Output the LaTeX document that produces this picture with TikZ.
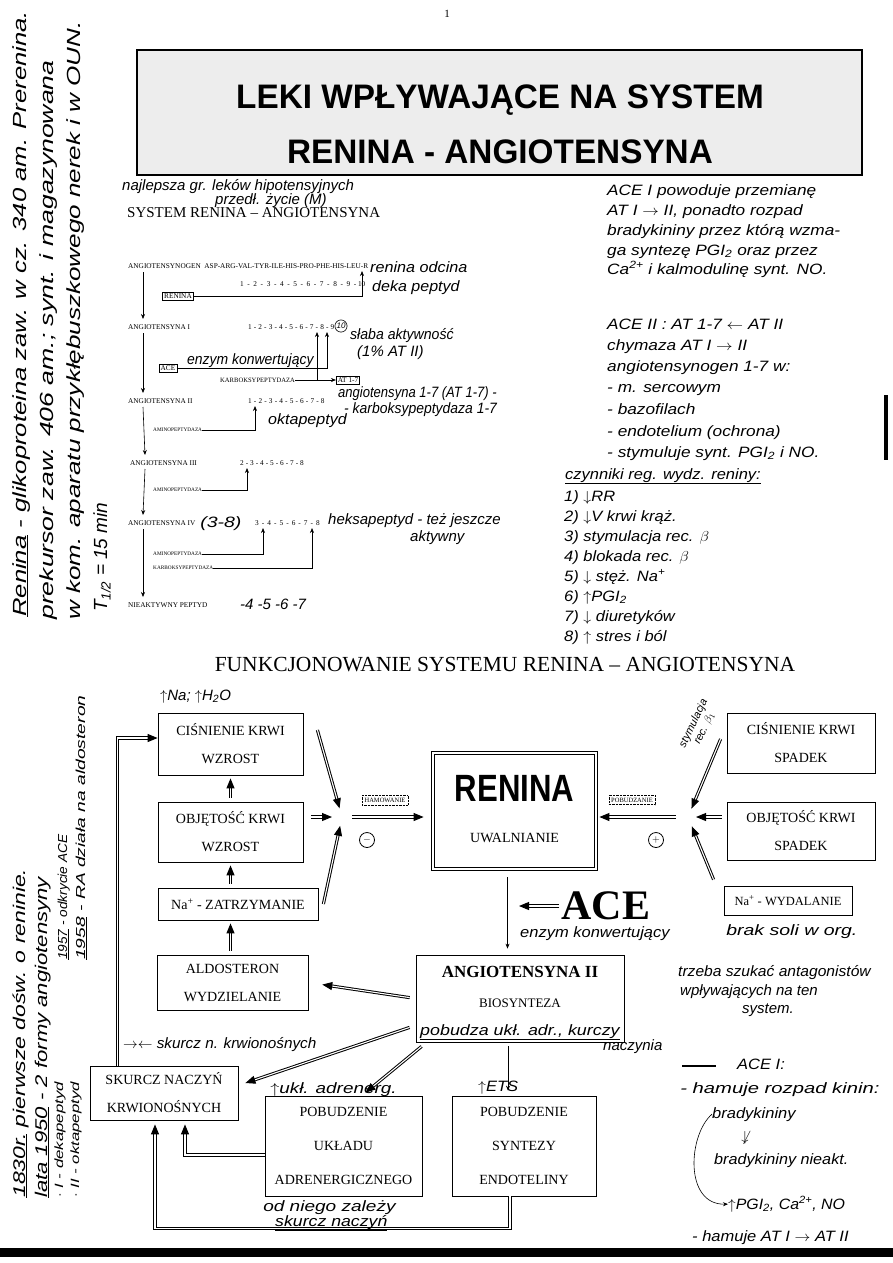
\documentclass[tikz,border=0pt]{standalone}
\usepackage{fontspec}
\setmainfont{Liberation Serif}
\newfontfamily\headfont{Liberation Sans}
\newfontfamily\handfont{Liberation Sans}
\usetikzlibrary{arrows.meta,positioning,calc}

\begin{document}
\begin{tikzpicture}[
  x=1pt,
  y=-1pt,
  box/.style={
    draw,
    line width=0.8pt,
    align=center,
    inner sep=0pt,
    font=\fontsize{14}{28}\selectfont
  },
  chain/.style={
    font=\fontsize{7.3}{8}\selectfont,
    inner sep=0pt
  },
  enzyme/.style={
    font=\fontsize{5.3}{6}\selectfont,
    inner sep=0pt,
    anchor=west
  },
  enzbox/.style={
    chain,
    draw,
    line width=0.6pt,
    inner sep=1.5pt
  },
  hand/.style={
    font=\handfont\itshape\fontsize{15}{18}\selectfont,
    anchor=base west,
    inner sep=0pt
  },
  note/.style={
    hand,
    xscale=1.15
  },
  margin/.style={
    hand,
    rotate=90,
    font=\handfont\itshape\fontsize{19}{22}\selectfont
  },
  tag/.style={
    draw,
    densely dotted,
    font=\fontsize{6.5}{7}\selectfont,
    inner sep=2.5pt
  },
  thinarrow/.style={
    line width=0.6pt,
    -{Stealth[length=5pt,width=4pt]}
  },
  dblline/.style={
    double,
    double distance=1.1pt,
    line width=1pt
  },
  dblarrow/.style={
    dblline,
    -{Triangle[length=10pt,width=8pt]}
  }
]

\useasboundingbox (0,0) rectangle (893,1263);

% title
\node[font=\fontsize{11}{12}\selectfont] (pageno) at (447,14) {1};
\node[draw, line width=1.2pt, fill=black!7, minimum width=725pt, minimum height=125pt] (titlebox) at (499.5,112.5) {};
\node[font=\headfont\bfseries\fontsize{34}{36}\selectfont, xscale=0.98] (title1) at (500,100) {LEKI WPŁYWAJĄCE NA SYSTEM};
\node[font=\headfont\bfseries\fontsize{34}{36}\selectfont, xscale=0.98] (title2) at (500,152) {RENINA - ANGIOTENSYNA};

\node[hand] (best1) at (122,190) {najlepsza gr. leków hipotensyjnych};
\node[hand] (best2) at (215,204) {przedł. życie (M)};
\node[font=\fontsize{15}{16}\selectfont, anchor=base west, inner sep=0pt] (systitle) at (127,217) {SYSTEM RENINA -- ANGIOTENSYNA};

% cascade
\newcommand{\residues}[4]{%
  \foreach \res [count=\c from 0] in {#4} {
    \node[chain, anchor=base] (res-#1-\c) at ({#2+\c*#3},#1) {\res};
    \ifnum\c>0
      \node[chain, anchor=base] (bond-#1-\c) at ({#2+(\c-0.5)*#3},#1) {-};
    \fi
  }
}

\node[chain, anchor=base west] (agen) at (128,268) {ANGIOTENSYNOGEN\ \ ASP-ARG-VAL-TYR-ILE-HIS-PRO-PHE-HIS-LEU-R};
\node[chain, anchor=base west] (at1) at (128,329) {ANGIOTENSYNA I};
\node[chain, anchor=base west] (at2) at (128,403) {ANGIOTENSYNA II};
\node[chain, anchor=base west] (at3) at (130,465) {ANGIOTENSYNA III};
\node[chain, anchor=base west] (at4) at (128,525) {ANGIOTENSYNA IV};
\node[chain, anchor=base west] (inact) at (128,607) {NIEAKTYWNY PEPTYD};

\residues{286}{242}{13.3}{1,2,3,4,5,6,7,8,9,10}
\residues{329}{250}{10.3}{1,2,3,4,5,6,7,8,9}
\residues{403}{250}{10.4}{1,2,3,4,5,6,7,8}
\residues{465}{242}{10}{2,3,4,5,6,7,8}
\residues{525}{257}{12.2}{3,4,5,6,7,8}
\node[circle, draw, line width=0.6pt, inner sep=0.6pt, font=\handfont\itshape\fontsize{8}{8}\selectfont] (ten) at (341,326) {10};

\foreach \from/\to in {agen/at1, at1/at2, at2/at3, at3/at4, at4/inact}
  \draw[thinarrow] ([xshift=15pt,yshift=-4pt]\from.base west) -- ([xshift=15pt,yshift=10pt]\to.base west);

\node[enzbox] (renbox) at (178,296) {RENINA};
\coordinate (cutgen) at (362,271);
\draw[thinarrow] (renbox.east) -| (cutgen);

\node[enzbox] (acebox) at (168,368) {ACE};
\coordinate (cut89) at (327,332);
\draw[thinarrow] (acebox.east) -| (cut89);

\node[enzyme, font=\fontsize{6.6}{7}\selectfont] (karb1) at (220,380) {KARBOKSYPEPTYDAZA};
\node[enzbox] (at17) at (348,380) {AT 1-7};
\coordinate (cut78) at (317,332);
\coordinate (karbjoin) at (317,380);
\draw[line width=0.6pt] (karb1.east) -- (karbjoin);
\draw[thinarrow] (karbjoin) -- (at17.west);
\draw[thinarrow] (karbjoin) -- (cut78);

\node[enzyme] (amino1) at (153,430) {AMINOPEPTYDAZA};
\coordinate (cut12) at (255,406);
\draw[thinarrow] (amino1.east) -| (cut12);
\node[enzyme] (amino2) at (153,490) {AMINOPEPTYDAZA};
\coordinate (cut23) at (247,468);
\draw[thinarrow] (amino2.east) -| (cut23);
\node[enzyme] (amino3) at (153,554) {AMINOPEPTYDAZA};
\coordinate (cut34) at (263,528);
\draw[thinarrow] (amino3.east) -| (cut34);
\node[enzyme] (karb2) at (153,568) {KARBOKSYPEPTYDAZA};
\coordinate (cut78b) at (312,528);
\draw[thinarrow] (karb2.east) -| (cut78b);

\node[hand, xscale=1.08] (odcina) at (370,272) {renina odcina};
\node[hand, xscale=1.07] (deka) at (372,291) {deka peptyd};
\node[hand, xscale=0.94] (slaba) at (350,339) {słaba aktywność};
\node[hand] (proc) at (357,356) {(1\% AT II)};
\node[hand, xscale=0.93] (konw1) at (187,364) {enzym konwertujący};
\node[hand, xscale=0.87] (at17a) at (338,397) {angiotensyna 1-7 (AT 1-7) -};
\node[hand, xscale=0.93] (at17b) at (344,413) {- karboksypeptydaza 1-7};
\node[hand, xscale=1.07] (okta) at (268,424) {oktapeptyd};
\node[hand, xscale=1.3] (range) at (200,527) {(3-8)};
\node[hand] (heksa) at (328,524) {heksapeptyd - też jeszcze};
\node[hand] (aktyw) at (410,541) {aktywny};
\node[hand] (rest) at (240,609) {-4 -5 -6 -7};

% notes on the right
\node[note] (n1) at (607,195) {ACE I powoduje przemianę};
\node[note] (n2) at (607,215) {AT I $\rightarrow$ II, ponadto rozpad};
\node[note] (n3) at (607,235) {bradykininy przez którą wzma-};
\node[note] (n4) at (607,255) {ga syntezę PGI\textsubscript{2} oraz przez};
\node[note] (n5) at (607,274) {Ca\textsuperscript{2+} i kalmodulinę synt. NO.};
\node[note] (m1) at (607,329) {ACE II : AT 1-7 $\leftarrow$ AT II};
\node[note] (m2) at (607,350) {chymaza AT I $\rightarrow$ II};
\node[note] (m3) at (607,371) {angiotensynogen 1-7 w:};
\node[note] (m4) at (607,392) {- m. sercowym};
\node[note] (m5) at (607,414) {- bazofilach};
\node[note] (m6) at (607,436) {- endotelium (ochrona)};
\node[note] (m7) at (607,457) {- stymuluje synt. PGI\textsubscript{2} i NO.};
\node[hand, xscale=1.1] (factors) at (565,479) {\underline{czynniki reg. wydz. reniny:}};
\foreach \txt [count=\i] in {$\downarrow$RR, $\downarrow$V krwi krąż., stymulacja rec. $\beta$, blokada rec. $\beta$, $\downarrow$ stęż. Na\textsuperscript{+}, $\uparrow$PGI\textsubscript{2}, $\downarrow$ diuretyków, $\uparrow$ stres i ból}
  \node[hand, xscale=1.1] (f\i) at (564,{481+\i*20}) {\i) \txt};

% functioning of the system
\node[font=\fontsize{21.5}{23}\selectfont] (functitle) at (505,665) {FUNKCJONOWANIE SYSTEMU RENINA -- ANGIOTENSYNA};

\node[box, minimum width=145pt, minimum height=62pt] (cisW) at (230.5,744) {CIŚNIENIE KRWI\\WZROST};
\node[box, minimum width=145pt, minimum height=60pt] (objW) at (230.5,832) {OBJĘTOŚĆ KRWI\\WZROST};
\node[box, minimum width=160pt, minimum height=32pt] (naZ) at (238,904) {Na\textsuperscript{+} - ZATRZYMANIE};
\node[box, minimum width=151pt, minimum height=55pt] (aldo) at (232.5,982.5) {ALDOSTERON\\WYDZIELANIE};
\node[box, minimum width=148pt, minimum height=54pt] (skurcz) at (164,1093) {SKURCZ NACZYŃ\\KRWIONOŚNYCH};
\node[box, minimum width=157pt, minimum height=100pt, font=\fontsize{14}{34}\selectfont] (adren) at (343.5,1146) {POBUDZENIE\\UKŁADU\\ADRENERGICZNEGO};
\node[box, minimum width=144pt, minimum height=100pt, font=\fontsize{14}{34}\selectfont] (endo) at (524,1146) {POBUDZENIE\\SYNTEZY\\ENDOTELINY};
\node[box, minimum width=208pt, minimum height=87pt] (ang2) at (520,998.5) {};
\node[font=\bfseries\fontsize{17}{20}\selectfont] (ang2name) at (520,972) {ANGIOTENSYNA II};
\node[font=\fontsize{13}{14}\selectfont] (biosynt) at (520,1003) {BIOSYNTEZA};
\node[draw, double, double distance=2.2pt, line width=0.8pt, minimum width=163pt, minimum height=116pt] (renina) at (514.5,811) {};
\node[font=\headfont\bfseries\fontsize{38}{40}\selectfont, xscale=0.82] (reninaname) at (514.5,788) {RENINA};
\node[font=\fontsize{14}{15}\selectfont] (uwal) at (514.5,838) {UWALNIANIE};
\node[box, minimum width=148pt, minimum height=60pt] (cisS) at (801,743) {CIŚNIENIE KRWI\\SPADEK};
\node[box, minimum width=148pt, minimum height=58pt] (objS) at (801,831) {OBJĘTOŚĆ KRWI\\SPADEK};
\node[box, minimum width=128pt, minimum height=29pt, font=\fontsize{12.5}{14}\selectfont] (naW) at (788,900.5) {Na\textsuperscript{+} - WYDALANIE};

\node[tag] (hamow) at (385,800) {HAMOWANIE};
\node[tag] (pobudz) at (632,800) {POBUDZANIE};
\node[circle, draw, line width=0.8pt, inner sep=0pt, minimum size=15pt] (minus) at (367,840) {$-$};
\node[circle, draw, line width=0.8pt, inner sep=0pt, minimum size=15pt] (plus) at (656,840) {$+$};

% left side converges on renina
\coordinate (lmeet) at (342,817);
\draw[dblarrow, shorten >=9pt] ([xshift=14pt,yshift=14pt]cisW.east) -- (lmeet);
\draw[dblarrow, shorten <=8pt, shorten >=10pt] ([yshift=15pt]objW.east) -- (lmeet);
\draw[dblarrow, shorten >=9pt] ([xshift=5pt]naZ.east) -- (lmeet);
\draw[dblarrow, shorten <=10pt, shorten >=9pt] (lmeet) -- (lmeet -| renina.west);

% right side converges on renina
\coordinate (rmeet) at (688,817);
\draw[dblarrow, shorten >=9pt] ([xshift=-6pt,yshift=4pt]cisS.west) -- (rmeet);
\draw[dblarrow, shorten <=5pt, shorten >=8pt] ([yshift=14pt]objS.west) -- (rmeet);
\draw[dblarrow, shorten >=10pt] ([xshift=-10pt,yshift=6pt]naW.north west) -- (rmeet);
\draw[dblarrow, shorten <=12pt, shorten >=3pt] (rmeet) -- (rmeet -| renina.east);

% left column
\draw[dblarrow, shorten <=4pt, shorten >=3pt] (objW.north) -- (cisW.south);
\draw[dblarrow, shorten <=4pt, shorten >=3pt] (naZ.north -| objW.south) -- (objW.south);
\draw[dblarrow, shorten <=4pt, shorten >=3pt] (aldo.north -| objW.south) -- (naZ.south -| objW.south);

% renina to angiotensyna II
\draw[thinarrow, shorten <=8pt, shorten >=6pt] ([xshift=-7pt]renina.south) -- ([xshift=-7pt]renina.south |- ang2.north);
\node[font=\bfseries\fontsize{42}{44}\selectfont, inner sep=2pt] (ace) at (606,906) {ACE};
\coordinate (acetip) at (519,906);
\draw[dblarrow] (ace.west) -- (acetip);

% effects of angiotensyna II
\draw[dblarrow, shorten <=6pt, shorten >=14pt] (ang2.west) -- (aldo.east);
\draw[dblarrow] ([xshift=-6pt,yshift=15pt]ang2.south west) -- ([xshift=7pt,yshift=10pt]skurcz.east);
\draw[dblarrow] ([xshift=6pt,yshift=-4pt]ang2.south west) -- ([xshift=22pt,yshift=3pt]adren.north);
\draw[thinarrow, shorten <=4pt, shorten >=5pt] ([xshift=-12pt]ang2.south) -- ([xshift=-12pt]ang2.south |- endo.north);

% feedback to the blood vessels
\draw[dblarrow] ([xshift=28pt]skurcz.north west) |- ([yshift=6pt]cisW.west);
\draw[dblarrow, shorten >=4pt] ([yshift=-9pt]adren.west) -| ([xshift=21pt]skurcz.south);
\draw[dblarrow, shorten >=4pt] ([xshift=-14pt]endo.south) -- ([xshift=-14pt,yshift=-32pt]endo.south) -| ([xshift=-9pt]skurcz.south);

% handwritten notes in the scheme
\node[hand] (naH2O) at (160,700) {$\uparrow$Na; $\uparrow$H\textsubscript{2}O};
\node[hand, anchor=center, rotate=64, align=center, font=\handfont\itshape\fontsize{11}{12}\selectfont] (stym) at (699,726) {stymulacja\\rec. $\beta_1$};
\node[hand, xscale=1.1] (konw2) at (520,937) {enzym konwertujący};
\node[hand, xscale=1.3] (brak) at (726,935) {brak soli w org.};
\node[hand, xscale=1.04] (szukac1) at (678,976) {trzeba szukać antagonistów};
\node[hand] (szukac2) at (680,995) {wpływających na ten};
\node[hand] (szukac3) at (742,1013) {system.};
\node[hand, xscale=1.19] (pobudza1) at (420,1035) {\underline{pobudza ukł. adr., kurczy}};
\node[hand] (pobudza2) at (603,1050) {naczynia};
\node[hand, xscale=1.02] (skurczn) at (123,1048) {$\rightarrow\leftarrow$ skurcz n. krwionośnych};
\node[hand, xscale=1.26] (uklad) at (270,1093) {$\uparrow$ukł. adrenerg.};
\node[hand, xscale=1.1] (ets) at (478,1091) {$\uparrow$ETS};
\node[hand, xscale=1.27] (zalezy1) at (263,1211) {od niego zależy};
\node[hand, xscale=1.18] (zalezy2) at (275,1226) {\underline{skurcz naczyń}};

\draw[line width=2.5pt] (682,1066) -- (716,1066);
\node[hand, xscale=1.1] (acei) at (737,1069) {ACE I:};
\node[hand, xscale=1.35] (kinin) at (680,1093) {- hamuje rozpad kinin:};
\node[hand, xscale=1.1] (brad1) at (712,1118) {bradykininy};
\node[hand, anchor=center] (block) at (745,1138) {$\not\downarrow$};
\node[hand, xscale=1.08] (brad2) at (714,1164) {bradykininy nieakt.};
\node[hand, xscale=1.06] (pgi) at (728,1209) {$\uparrow$PGI\textsubscript{2}, Ca\textsuperscript{2+}, NO};
\node[hand, xscale=1.1] (hamuje) at (692,1241) {- hamuje AT I $\rightarrow$ AT II};
\draw[thinarrow] (brad1.west) .. controls (688,1135) and (684,1205) .. (pgi.west);

% margins
\node[margin, xscale=1.35] (ren1) at (26,617) {\underline{Renina} - glikoproteina zaw. w cz. 340 am. Prerenina.};
\node[margin, xscale=1.4] (ren2) at (53,620) {prekursor zaw. 406 am.; synt. i magazynowana};
\node[margin, xscale=1.37] (ren3) at (80,620) {w kom. aparatu przykłębuszkowego nerek i w OUN.};
\node[margin] (ren4) at (107,612) {T\textsubscript{1/2} = 15 min};
\node[margin, font=\handfont\itshape\fontsize{17}{19}\selectfont, xscale=1.35] (hist1) at (25,1198) {\underline{1830r.} pierwsze dośw. o reninie.};
\node[margin, font=\handfont\itshape\fontsize{17}{19}\selectfont, xscale=1.3] (hist2) at (47,1198) {\underline{lata 1950} - 2 formy angiotensyny};
\node[margin, font=\handfont\itshape\fontsize{12}{14}\selectfont, xscale=1.4] (hist3) at (63,1198) {$\cdot$ I - dekapeptyd};
\node[margin, font=\handfont\itshape\fontsize{12}{14}\selectfont, xscale=1.4] (hist4) at (79,1198) {$\cdot$ II - oktapeptyd};
\node[margin, font=\handfont\itshape\fontsize{13}{15}\selectfont, xscale=1.05] (hist5) at (67,960) {\underline{1957} - odkrycie ACE};
\node[margin, font=\handfont\itshape\fontsize{13}{15}\selectfont, xscale=1.48] (hist6) at (85,960) {\underline{1958} - RA działa na aldosteron};

\fill (884,395) rectangle (888,460);
\fill (0,1248) rectangle (893,1257);

\end{tikzpicture}
\end{document}
